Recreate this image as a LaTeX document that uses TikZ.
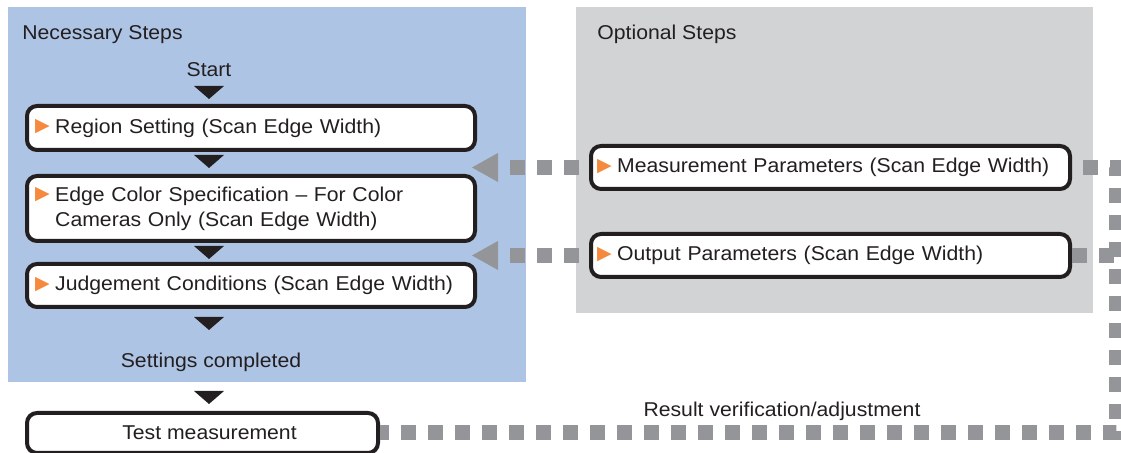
\documentclass[tikz,border=0pt]{standalone}
\usepackage{fontspec}
\setmainfont{Liberation Sans}[FakeStretch=1.06]
\newfontfamily\symfont{DejaVu Sans}
\usetikzlibrary{arrows.meta}
\definecolor{panelblue}{HTML}{AEC4E4}
\definecolor{panelgray}{HTML}{D1D3D4}
\definecolor{linkgray}{HTML}{939598}
\definecolor{marker}{HTML}{F58A3F}
\definecolor{ink}{HTML}{231F20}
\newcommand{\otri}{\raisebox{0.7pt}{\symfont\fontsize{9.5pt}{9.5pt}\selectfont\textcolor{marker}{▶}}\hspace{2.8pt}}
\begin{document}
\begin{tikzpicture}[x=0.5pt, y=-0.5pt, font=\fontsize{10pt}{12.5pt}\selectfont, text=ink,
  stepbox/.style={draw=ink, line width=2pt, rounded corners=5pt, fill=white, inner ysep=0pt, align=left},
  linkline/.style={draw=linkgray, line width=7.5pt, dash pattern=on 7.5pt off 6pt},
  linktip/.style={-{Triangle[length=13pt, width=14.5pt, line width=0pt]}}]
  \useasboundingbox (0,0) rectangle (1121,453);
  % panels
  \fill[panelblue] (8,7) rectangle (526,382);
  \fill[panelgray] (576,7) rectangle (1093,313);
  \node[anchor=base west, inner sep=0pt] (nec) at (22,40) {Necessary Steps};
  \node[anchor=base west, inner sep=0pt] (opt) at (597,40) {Optional Steps};
  % necessary steps
  \node[anchor=base, inner sep=0pt] (start) at (209,77) {Start};
  \node[stepbox, text width=216pt, inner xsep=4pt, minimum height=22pt] (region) at (251,128)
    {\otri Region Setting (Scan Edge Width)};
  \node[stepbox, text width=216pt, inner xsep=4pt, minimum height=32.5pt] (edgecol) at (251,208.5)
    {\otri Edge Color Specification – For Color\\\phantom{\otri}Cameras Only (Scan Edge Width)};
  \node[stepbox, text width=216pt, inner xsep=4pt, minimum height=21.5pt] (judge) at (251,285.5)
    {\otri Judgement Conditions (Scan Edge Width)};
  \node[anchor=base, inner sep=0pt] (done) at (211,368) {Settings completed};
  \node[stepbox, align=center, minimum width=175.5pt, minimum height=20pt] (test) at (202.5,433)
    {\hspace*{7pt}Test measurement};
  \foreach \y in {92.5,161.5,252.5,323.5,397.5}
    \fill[ink] (209,\y) +(-15,-6.5) -- +(15,-6.5) -- +(0,6.5) -- cycle;
  % optional steps
  \node[stepbox, text width=233.5pt, inner xsep=3pt, minimum height=21.5pt] (meas) at (830.5,167.5)
    {\otri Measurement Parameters (Scan Edge Width)};
  \node[stepbox, text width=233.5pt, inner xsep=3pt, minimum height=21.5pt] (outp) at (830.5,255.5)
    {\otri Output Parameters (Scan Edge Width)};
  % gray links
  \coordinate (tipa) at (472,167.5);
  \coordinate (tipb) at (472,255.5);
  \coordinate (rt) at (1116,167.5);
  \coordinate (rb) at (rt |- test.east);
  \draw[linkline, linktip, dash phase=8.5pt] (meas.west) -- (tipa);
  \draw[linkline, linktip, dash phase=8.5pt] (outp.west) -- (tipb);
  \draw[linkline, dash phase=8pt] (meas.east) -- (rt) -- (rb) -- (test.east);
  \draw[linkline] (outp.east) -- (outp.east -| rt);
  \node[anchor=base, inner sep=0pt] (verify) at (782,417) {Result verification/adjustment};
\end{tikzpicture}
\end{document}
